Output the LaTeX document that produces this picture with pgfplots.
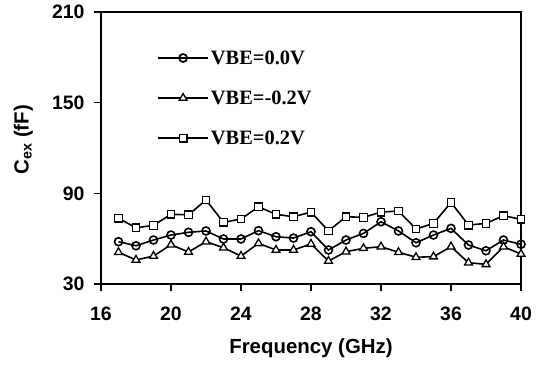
\documentclass[border=0pt]{standalone}
\usepackage{pgfplots}
\pgfplotsset{compat=1.18}
\usepackage{fontspec}
\setmainfont{Liberation Sans}
\newfontfamily\timesfont{Liberation Serif}
\begin{document}
\begin{tikzpicture}
\path[use as bounding box] (-101bp,-82bp) rectangle (436bp,284bp);
\begin{axis}[
  scale only axis, width=420bp, height=272bp,
  xmin=16, xmax=40, ymin=30, ymax=210,
  xtick={16,20,...,40}, ytick={30,90,150,210},
  xtick pos=left, ytick pos=left, tick align=outside,
  major tick length=7bp,
  axis line style={line width=1.8bp},
  every tick/.style={line width=1.6bp, black},
  /pgf/number format/assume math mode=true,
  tick label style={font=\bfseries\fontsize{19.5}{19.5}\selectfont},
  xticklabel style={yshift=-12bp},
  yticklabel style={xshift=-6bp},
  xlabel={\bfseries Frequency (GHz)},
  ylabel={\bfseries C\textsubscript{ex} (fF)},
  label style={font=\bfseries\fontsize{20.5}{20.5}\selectfont},
  xlabel style={at={(axis description cs:0.5,-0.235)},anchor=center},
  ylabel style={at={(axis description cs:-0.185,0.53)},anchor=center},
  legend style={draw=none, fill=none, at={(axis cs:19.2,186)}, anchor=north west,
    font=\timesfont\bfseries\fontsize{20.5}{20.5}\selectfont, row sep=21bp,
    inner sep=0pt, cells={anchor=west}},
  legend cell align=left,
  legend image code/.code={\draw[mark repeat=2,mark phase=2,#1,line width=1.8bp] plot coordinates {(0bp,0bp) (25bp,0bp) (50bp,0bp)};},
  every axis plot/.append style={black, line width=1.6bp, mark options={fill=white, solid, line width=1.3bp}},
]
\addplot[mark=o, mark size=4bp, mark options={draw=black,fill=white}] table {
x y
17 58
18 55.3
19 59.1
20 62.4
21 64.2
22 65.1
23 59.8
24 59.8
25 65.3
26 61.3
27 60.4
28 64.6
29 52.5
30 59.1
31 63.5
32 71.2
33 65.1
34 57.3
35 62.4
36 66.8
37 55.8
38 52
39 59.1
40 56.3
};
\addlegendentry{VBE=0.0V}
\addplot[mark=triangle*, mark size=4.5bp] table {
x y
17 51
18 45.9
19 48.5
20 56
21 51.2
22 58
23 54
24 48.5
25 56.9
26 52.5
27 52.5
28 56.5
29 45.2
30 51.4
31 53.6
32 54.7
33 51
34 47.7
35 48.1
36 54.7
37 44.1
38 43
39 54.7
40 49.8
};
\addlegendentry{VBE=-0.2V}
\addplot[mark=square*, mark size=3.8bp] table {
x y
17 73.5
18 67.2
19 68.8
20 76.1
21 75.8
22 85.6
23 70.8
24 73
25 81.1
26 76.1
27 74.5
28 77.6
29 65.1
30 74.5
31 74.1
32 77.6
33 78.3
34 66.4
35 70.1
36 84
37 69
38 70.1
39 75.2
40 72.8
};
\addlegendentry{VBE=0.2V}
\end{axis}
\end{tikzpicture}
\end{document}
